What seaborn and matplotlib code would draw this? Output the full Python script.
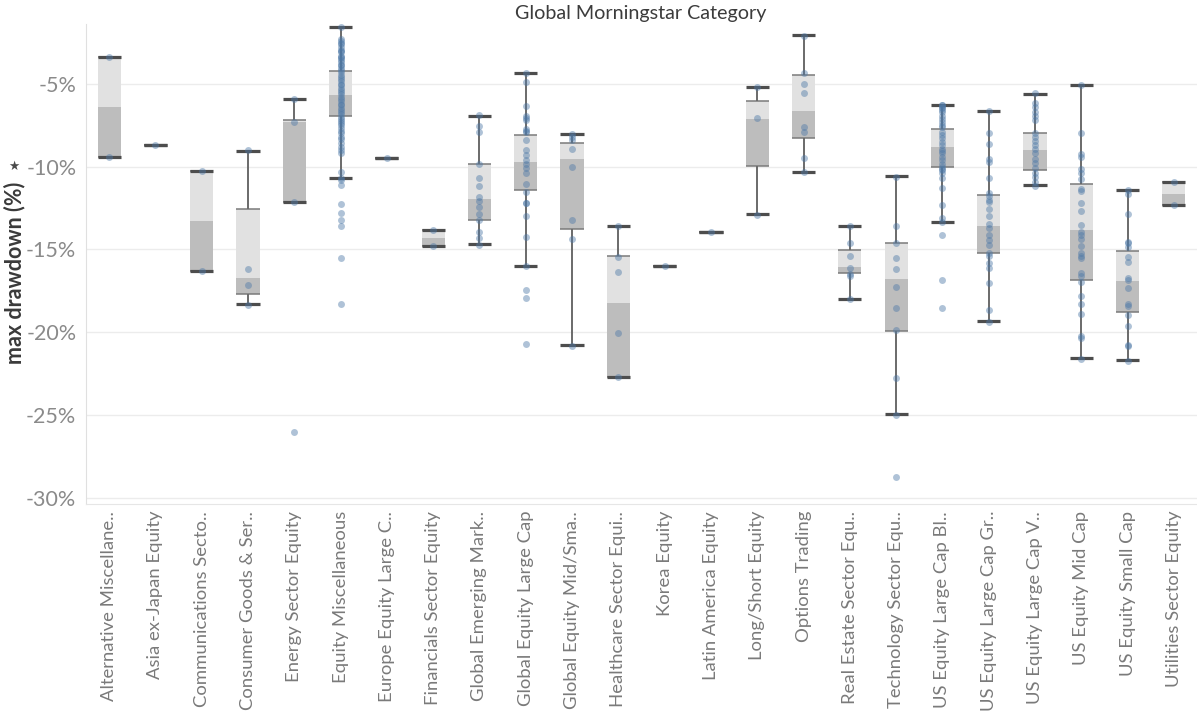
import numpy as np
import pandas as pd
import matplotlib
matplotlib.use("Agg")
import matplotlib.pyplot as plt
import seaborn as sns

# 类别（与原图顺序一致，长名按原图截断）
categories = [
    "Alternative Miscellane..", "Asia ex-Japan Equity", "Communications Secto..",
    "Consumer Goods & Ser..", "Energy Sector Equity", "Equity Miscellaneous",
    "Europe Equity Large C..", "Financials Sector Equity", "Global Emerging Mark..",
    "Global Equity Large Cap", "Global Equity Mid/Sma..", "Healthcare Sector Equi..",
    "Korea Equity", "Latin America Equity", "Long/Short Equity", "Options Trading",
    "Real Estate Sector Equ..", "Technology Sector Equ..", "US Equity Large Cap Bl..",
    "US Equity Large Cap Gr..", "US Equity Large Cap V..", "US Equity Mid Cap",
    "US Equity Small Cap", "Utilities Sector Equity",
]

# 箱线图统计量（%）：上须、上四分位、中位数、下四分位、下须
whisker_top = [-3.38, -8.67, -10.27, -9.03, -5.92, -1.57, -9.50, -13.80, -6.94, -4.38, -8.06, -13.57,
               -16.00, -13.97, -5.22, -2.07, -13.57, -10.57, -6.26, -6.66, -5.62, -5.06, -11.39, -10.95]
q3 = [-3.38, -8.67, -10.27, -12.55, -7.18, -4.26, -9.50, -13.80, -9.83, -8.10, -8.58, -15.40,
      -16.00, -13.97, -6.06, -4.50, -15.04, -14.63, -7.76, -11.73, -7.96, -11.03, -15.11, -10.95]
median = [-6.42, -8.67, -13.27, -16.72, -7.34, -5.66, -9.50, -14.33, -11.97, -9.75, -9.53, -18.22,
          -16.00, -13.97, -7.10, -6.62, -16.08, -16.78, -8.79, -13.57, -9.00, -13.83, -16.92, -11.63]
q1 = [-9.40, -8.67, -16.28, -17.68, -12.15, -6.92, -9.50, -14.81, -13.23, -11.43, -13.75, -22.67,
      -16.00, -13.97, -9.97, -8.29, -16.40, -19.92, -10.05, -15.19, -10.19, -16.87, -18.80, -12.31]
whisker_bottom = [-9.40, -8.67, -16.28, -18.28, -12.15, -10.69, -9.50, -14.81, -14.67, -16.00, -20.78, -22.67,
                  -16.00, -13.97, -12.85, -10.31, -18.00, -24.95, -13.35, -19.30, -11.13, -21.55, -21.69, -12.31]

# 各类别基金的 max drawdown 点（%）
alt_pts = [-3.4, -9.45]
asia_pts = [-8.67]
comm_pts = [-10.25, -16.32]
cons_pts = [-9.0, -16.18, -17.14, -18.34]
energy_pts = [-5.9, -7.3, -12.15, -26.0]
eqmisc_pts = [-1.57, -2.3, -2.42, -2.55, -2.6, -2.8, -2.95, -3.05, -3.1, -3.3, -3.4, -3.45, -3.6,
              -3.7, -3.85, -3.9, -4.05, -4.2, -4.3, -4.45, -4.6, -4.7, -4.85, -5.0, -5.05, -5.25,
              -5.4, -5.5, -5.65, -5.8, -5.9, -6.05, -6.2, -6.3, -6.45, -6.6, -6.7, -6.85, -7.0,
              -7.1, -7.25, -7.4, -7.5, -7.7, -7.85, -8.0, -8.2, -8.35, -8.6, -8.8, -9.0, -9.2,
              -10.33, -10.69, -10.83, -11.09, -12.25, -12.77, -13.23, -13.6, -15.54, -18.26]
europe_pts = [-9.5]
fin_pts = [-13.85, -14.8]
gem_pts = [-6.9, -7.58, -7.94, -9.83, -10.67, -11.15, -11.83, -12.09, -12.43, -12.83, -13.23,
           -13.93, -14.33, -14.7]
glc_pts = [-4.38, -4.92, -6.36, -6.92, -7.05, -7.22, -7.72, -7.85, -7.92, -8.41, -8.98, -9.3,
           -9.63, -9.87, -10.1, -10.38, -11.07, -11.53, -12.19, -12.22, -12.95, -14.23, -16.0,
           -17.44, -17.9, -20.7]
gmid_pts = [-8.06, -8.22, -8.4, -8.93, -10.02, -13.23, -14.35, -20.8]
health_pts = [-13.6, -15.48, -16.38, -20.06, -22.7]
korea_pts = [-16.0]
latam_pts = [-13.97]
ls_pts = [-5.22, -7.04, -12.9]
options_pts = [-2.1, -4.38, -5.02, -5.58, -7.62, -7.92, -9.48, -10.3]
re_pts = [-13.6, -14.63, -15.4, -16.1, -16.5, -16.6, -18.0]
tech_pts = [-10.6, -13.6, -14.63, -15.54, -16.2, -17.28, -18.54, -19.84, -22.76, -25.0, -28.7]
uslcb_pts = [-6.26, -6.3, -6.38, -6.45, -6.6, -6.72, -6.92, -7.1, -7.3, -7.52, -7.6, -7.9,
             -8.1, -8.25, -8.5, -8.7, -8.93, -9.05, -9.2, -9.43, -9.6, -9.85, -10.0, -10.13,
             -10.23, -10.4, -10.67, -11.29, -12.33, -13.09, -13.35, -14.15, -16.86, -18.54]
uslcg_pts = [-6.66, -7.96, -8.64, -9.53, -9.73, -10.67, -11.57, -11.8, -12.0, -12.13, -12.53,
             -13.0, -13.49, -13.7, -14.13, -14.4, -14.73, -15.23, -15.37, -15.79, -16.14,
             -17.04, -18.64, -19.35]
uslcv_pts = [-5.55, -6.18, -6.4, -6.68, -6.92, -7.16, -8.0, -8.2, -8.45, -8.7, -8.93, -9.2,
             -9.52, -9.8, -10.07, -10.4, -10.6, -10.93, -11.15]
usmid_pts = [-5.06, -7.96, -9.22, -9.42, -10.17, -10.37, -10.73, -11.33, -11.5, -12.19, -12.67,
             -13.53, -13.95, -14.13, -14.38, -14.77, -15.23, -15.37, -15.5, -16.44, -16.57,
             -16.97, -17.78, -18.26, -18.88, -20.24, -20.35, -21.6]
ussmall_pts = [-11.39, -11.67, -12.83, -14.53, -14.62, -14.83, -15.48, -15.74, -16.7, -16.85,
               -17.34, -18.26, -18.4, -18.94, -19.64, -20.74, -20.85, -21.7]
util_pts = [-10.93, -12.3]

point_lists = [alt_pts, asia_pts, comm_pts, cons_pts, energy_pts, eqmisc_pts, europe_pts,
               fin_pts, gem_pts, glc_pts, gmid_pts, health_pts, korea_pts, latam_pts, ls_pts,
               options_pts, re_pts, tech_pts, uslcb_pts, uslcg_pts, uslcv_pts, usmid_pts,
               ussmall_pts, util_pts]

df = pd.DataFrame(
    [(c, v) for c, pts in zip(categories, point_lists) for v in pts],
    columns=["category", "drawdown"],
)

# 画布
sns.set_style("white")
plt.rcParams["font.family"] = ["Lato", "DejaVu Sans"]

W, H = 1197, 718
fig = plt.figure(figsize=(W / 100, H / 100), dpi=100)
ax = fig.add_axes([86 / W, 1 - 504 / H, 1 - 86 / W, (504 - 24) / H])

x = np.arange(len(categories))
bw = 0.5

# 箱体：上半浅灰，下半深灰（Tableau 风格）
ax.bar(x, np.array(q3) - np.array(median), bottom=median, width=bw, color="#e1e1e1",
       linewidth=0, zorder=1)
ax.bar(x, np.array(median) - np.array(q1), bottom=q1, width=bw, color="#bdbdbd",
       linewidth=0, zorder=1)
ax.hlines(q3, x - bw / 2, x + bw / 2, color="#7a7a7a", lw=1.1, zorder=2)
ax.hlines(q1, x - bw / 2, x + bw / 2, color="#7a7a7a", lw=1.1, zorder=2)

# 须线与端帽
ax.vlines(x, q3, whisker_top, color="#6a6a6a", lw=1.4, zorder=2)
ax.vlines(x, whisker_bottom, q1, color="#6a6a6a", lw=1.4, zorder=2)
ax.hlines(whisker_top, x - bw / 2, x + bw / 2, color="#4d4d4d", lw=2.3, zorder=3)
ax.hlines(whisker_bottom, x - bw / 2, x + bw / 2, color="#4d4d4d", lw=2.3, zorder=3)

# 散点
sns.stripplot(data=df, x="category", y="drawdown", order=categories, jitter=False,
              color="#4e79a7", alpha=0.45, size=5, linewidth=0, ax=ax, zorder=4)

# 坐标轴
ax.set_xlim(-0.5, len(categories) - 0.5)
ax.set_ylim(-30.35, -1.4)
yt = [-5, -10, -15, -20, -25, -30]
ax.set_yticks(yt)
ax.set_yticklabels([f"{v}%" for v in yt], fontsize=15.5, color="#8a8a8a")
ax.grid(axis="y", color="#ececec", lw=1)
ax.set_axisbelow(True)
ax.set_xlabel("")
ax.set_ylabel("")
ax.set_xticks(x)
ax.set_xticklabels(categories, rotation=90, fontsize=13.3, color="#7a7a7a")
ax.set_xticks(np.arange(len(categories) + 1) - 0.5, minor=True)
ax.tick_params(axis="x", which="major", length=0, pad=5)
ax.tick_params(axis="x", which="minor", length=12, color="#e6e6e6", width=1)
ax.tick_params(axis="y", length=0, pad=7)
for side in ["top", "right"]:
    ax.spines[side].set_visible(False)
ax.spines["left"].set_color("#e0e0e0")
ax.spines["bottom"].set_color("#e6e6e6")

fig.text(641 / W, 1 - 14 / H, "Global Morningstar Category", ha="center", va="center",
         fontsize=14.2, color="#3c3c3c")
fig.text(15 / W, 1 - 182 / H, "max drawdown (%)", rotation=90, ha="center", va="top",
         fontsize=15.5, fontweight="bold", color="#3a3a3a")
# 图钉标记（近似原图的小图标）
fig.text(14 / W, 1 - 166 / H, "\u2605", ha="center", va="center",
         fontsize=9, color="#4a4a4a", family=["DejaVu Sans"])

fig.savefig("out.png", dpi=100)
